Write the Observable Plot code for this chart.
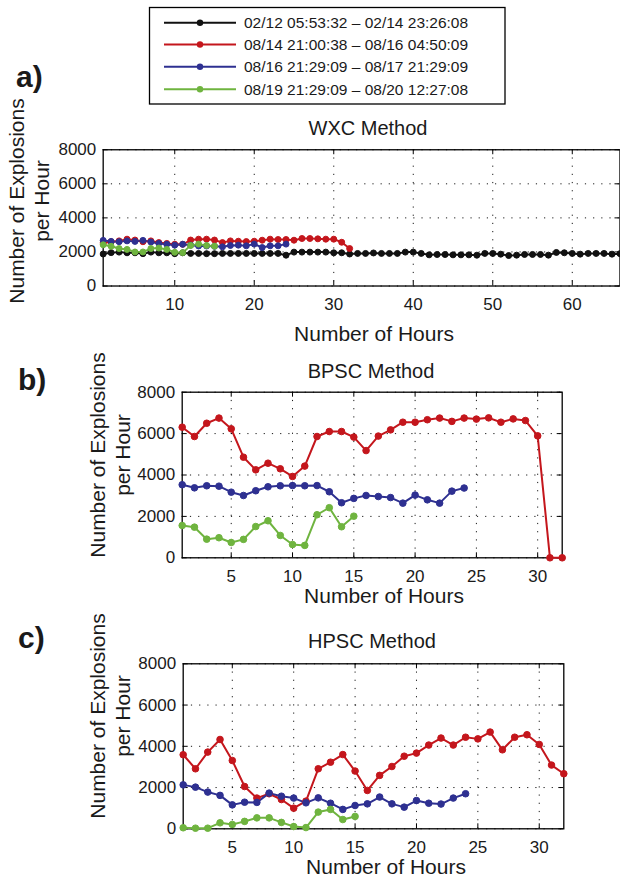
<!DOCTYPE html>
<html><head><meta charset="utf-8">
<script src="https://cdn.jsdelivr.net/npm/d3@7"></script>
<script src="https://cdn.jsdelivr.net/npm/@observablehq/plot@0.6"></script>
<style>
html,body{margin:0;padding:0;background:#fff;overflow:hidden;}
#wrap{position:relative;width:620px;height:881px;overflow:hidden;font-family:"Liberation Sans",Arial,Helvetica,sans-serif;}
#wrap svg{position:absolute;left:0;}
</style></head><body><div id="wrap"></div>
<script>
// ---------- series names & colours ----------
const seriesNames = ["02/12 05:53:32 \u2013 02/14 23:26:08","08/14 21:00:38 \u2013 08/16 04:50:09","08/16 21:29:09 \u2013 08/17 21:29:09","08/19 21:29:09 \u2013 08/20 12:27:08"];
const seriesColors = ["#111111","#c4161c","#2e3091","#6fb43f"];

// ---------- panel a: WXC Method ----------
const wxcBlack = [1880,1960,1990,1950,1950,1900,1990,1950,1950,1900,1950,1912,1912,1900,1900,1912,1912,1912,1912,1912,1912,1912,1912,1810,1990,1990,1990,1990,1990,1950,1950,1880,1912,1912,1940,1912,1912,1912,1990,1990,1912,1830,1850,1850,1830,1830,1830,1810,1912,1912,1870,1790,1813,1853,1853,1853,1813,1970,1950,1912,1871,1912,1912,1912,1871,1900];
const wxcRed = [2530,2600,2650,2750,2700,2600,2650,2550,2500,2450,2450,2700,2750,2750,2700,2550,2650,2630,2610,2630,2690,2750,2730,2730,2690,2790,2790,2770,2750,2750,2570,2200];
const wxcBlue = [2680,2620,2600,2650,2620,2680,2580,2500,2450,2400,2450,2400,2350,2350,2330,2300,2380,2400,2360,2460,2260,2360,2360,2460];
const wxcGreen = [2420,2330,2200,2150,2000,2000,2200,2230,2150,1980,1960,2380,2460,2380,2340];

// ---------- panel b: BPSC Method ----------
const bpscRed = [6310,5860,6500,6750,6230,4860,4250,4570,4300,3930,4430,5860,6100,6100,5830,5180,5880,6180,6550,6550,6670,6750,6590,6750,6700,6760,6550,6710,6630,5890,0,0];
const bpscBlue = [3530,3380,3480,3460,3170,3010,3240,3430,3480,3490,3480,3490,3190,2660,2870,3010,2960,2910,2640,3030,2800,2640,3220,3370];
const bpscGreen = [1560,1480,900,970,740,890,1510,1790,1080,640,600,2080,2420,1500,2010];

// ---------- panel c: HPSC Method ----------
const hpscRed = [3590,2910,3720,4330,3310,2050,1490,1700,1420,1000,1340,2910,3230,3600,2800,1860,2590,3020,3520,3670,4060,4400,4060,4440,4360,4690,3830,4440,4560,4090,3090,2670];
const hpscBlue = [2130,2020,1780,1620,1160,1290,1280,1730,1580,1490,1260,1500,1240,940,1130,1210,1540,1210,1050,1370,1240,1200,1490,1700];
const hpscGreen = [50,30,30,290,210,360,530,530,310,110,60,810,940,450,600];

// ---------- tick values ----------
const yTicks = [0,2000,4000,6000,8000];
const xTicksA = [10,20,30,40,50,60];
const xTicksBC = [5,10,15,20,25,30];

function rows(list){
  return list.flatMap((vals,k)=>vals.map((v,i)=>({s:seriesNames[k],h:i+1,v})));
}

const FONT = '"Liberation Sans",Arial,Helvetica,sans-serif';
const wrap = document.getElementById("wrap");

function panel({data, xDomain, xTicks, top, height, width, mL, mR, mT, mB, r}){
  const frameW = width - mL - mR, frameH = height - mT - mB;
  const yDomain = [0,8000];
  const tx = (xDomain[1]-xDomain[0])*5/frameW;
  const ty = (yDomain[1]-yDomain[0])*5/frameH;
  const grid = {stroke:"#000", strokeOpacity:0.9, strokeWidth:1, strokeDasharray:"1.2,7"};
  const p = Plot.plot({
    width, height, marginLeft:mL, marginRight:mR, marginTop:mT, marginBottom:mB,
    x:{domain:xDomain, label:null}, y:{domain:yDomain, label:null},
    color:{domain:seriesNames, range:seriesColors},
    style:{fontFamily:FONT, fontSize:"17px", color:"#1a1a1a", background:"transparent", overflow:"visible"},
    marks:[
      Plot.gridX(xTicks, grid),
      Plot.gridY(yTicks, grid),
      Plot.ruleX(xTicks, {x:d=>d, y1:yDomain[0], y2:yDomain[0]+ty, stroke:"#000"}),
      Plot.ruleX(xTicks, {x:d=>d, y1:yDomain[1]-ty, y2:yDomain[1], stroke:"#000"}),
      Plot.ruleY(yTicks, {y:d=>d, x1:xDomain[0], x2:xDomain[0]+tx, stroke:"#000"}),
      Plot.ruleY(yTicks, {y:d=>d, x1:xDomain[1]-tx, x2:xDomain[1], stroke:"#000"}),
      Plot.frame({stroke:"#000", strokeWidth:1.3}),
      Plot.axisX(xTicks, {tickSize:0, tickPadding:12, fontSize:17, label:null, tickFormat:d=>String(d)}),
      Plot.axisY(yTicks, {tickSize:0, tickPadding:7, fontSize:17, label:null, tickFormat:d=>String(d)}),
      Plot.line(data, {x:"h", y:"v", z:"s", stroke:"s", strokeWidth:2}),
      Plot.dot(data, {x:"h", y:"v", fill:"s", stroke:"s", r, strokeWidth:1})
    ]
  });
  p.style.position = "absolute";
  p.style.top = top+"px";
  p.style.left = "0px";
  wrap.appendChild(p);
}

// frame a: x 103 -> 621.5, y 149.3 -> 286
panel({data:rows([wxcBlack,wxcRed,wxcBlue,wxcGreen]), xDomain:[1,66], xTicks:xTicksA,
  top:139, height:175, width:622, mL:103, mR:0.5, mT:10.3, mB:28, r:3});
// frame b: x 181.7 -> 561.7, y 391.7 -> 557.3
panel({data:rows([[],bpscRed,bpscBlue,bpscGreen]), xDomain:[1,32], xTicks:xTicksBC,
  top:381, height:205, width:620, mL:181.7, mR:58.3, mT:10.7, mB:28.7, r:3.3});
// frame c: x 182.7 -> 563.3, y 663.3 -> 828.3
panel({data:rows([[],hpscRed,hpscBlue,hpscGreen]), xDomain:[1,32], xTicks:xTicksBC,
  top:653, height:205, width:620, mL:182.7, mR:56.7, mT:10.3, mB:29.7, r:3.3});

// ---------- overlay texts & legend ----------
const ov = d3.create("svg").attr("width",620).attr("height",881)
  .style("top","0px").style("left","0px").style("pointer-events","none")
  .attr("font-family",FONT).attr("fill","#1a1a1a");

const titles = [["WXC Method",368,135],["BPSC Method",371,378],["HPSC Method",372,648]];
titles.forEach(([t,x,y])=>ov.append("text").attr("x",x).attr("y",y).attr("text-anchor","middle").attr("font-size",20).text(t));

const xlabels = [[374,341],[384,603],[386,874]];
xlabels.forEach(([x,y])=>ov.append("text").attr("x",x).attr("y",y).attr("text-anchor","middle").attr("font-size",21).text("Number of Hours"));

const ylabels = [[24,201],[105,455],[105,716]];
ylabels.forEach(([x,cy])=>{
  ov.append("text").attr("transform",`translate(${x},${cy}) rotate(-90)`).attr("text-anchor","middle").attr("font-size",21).text("Number of Explosions");
  ov.append("text").attr("transform",`translate(${x+25},${cy}) rotate(-90)`).attr("text-anchor","middle").attr("font-size",21).text("per Hour");
});

const letters = [["a)",16,87],["b)",18,390],["c)",18,648]];
letters.forEach(([t,x,y])=>ov.append("text").attr("x",x).attr("y",y).attr("font-size",30).attr("font-weight","bold").text(t));

// legend
const lg = ov.append("g");
lg.append("rect").attr("x",149.5).attr("y",7.5).attr("width",355.5).attr("height",96.5)
  .attr("fill","#fff").attr("stroke","#000").attr("stroke-width",1.3);
const rowY = [22.7,44.5,66.7,89.2];
seriesNames.forEach((n,i)=>{
  const y = rowY[i];
  lg.append("line").attr("x1",164).attr("x2",236).attr("y1",y).attr("y2",y).attr("stroke",seriesColors[i]).attr("stroke-width",2);
  lg.append("circle").attr("cx",200).attr("cy",y).attr("r",3.2).attr("fill",seriesColors[i]);
  lg.append("text").attr("x",244).attr("y",y+5.6).attr("font-size",15.5).text(n);
});
wrap.appendChild(ov.node());
</script></body></html>
